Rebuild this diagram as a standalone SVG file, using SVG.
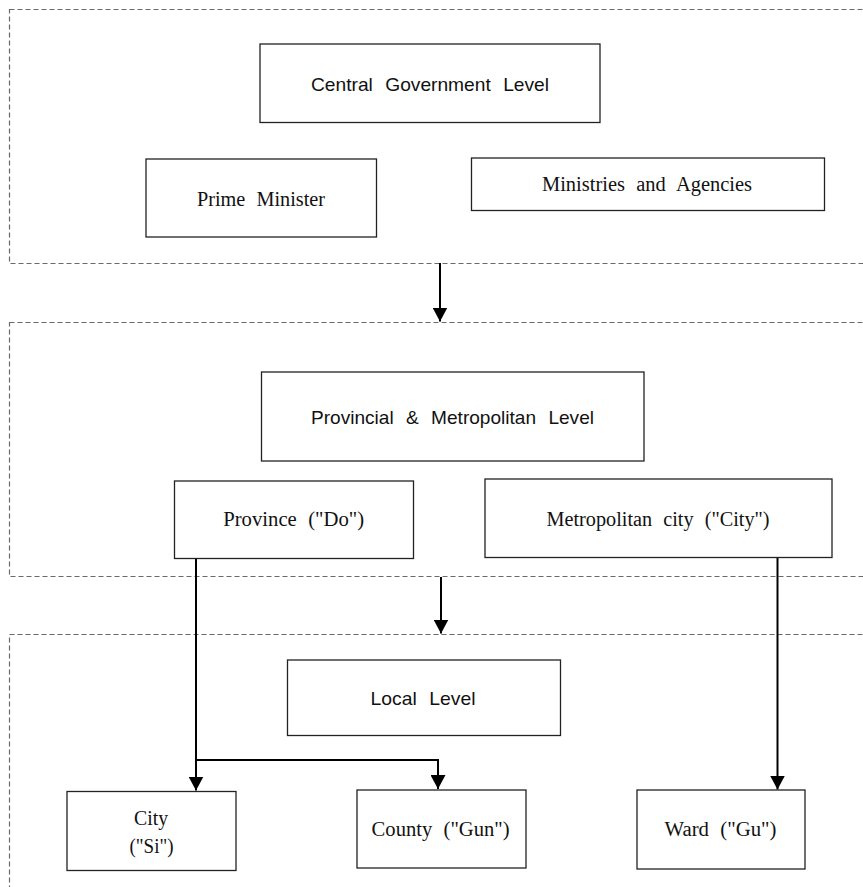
<svg xmlns="http://www.w3.org/2000/svg" width="863" height="887" viewBox="0 0 863 887">
<style>
.bg{fill:#fff}
.grp{fill:none;stroke:#6a6a6a;stroke-width:1.2;stroke-dasharray:5 3}
.box{fill:#fff;stroke:#222;stroke-width:1.3}
.sans{font-family:"Liberation Sans",Arial,sans-serif;font-size:19px;fill:#111;word-spacing:7px}
.serif{font-family:"Liberation Serif","Times New Roman",serif;font-size:20px;fill:#111;word-spacing:6px}
.con{fill:none;stroke:#000;stroke-width:2}
</style>
<defs>
<marker id="ah" markerUnits="userSpaceOnUse" markerWidth="15" markerHeight="15" refX="14" refY="7.5" orient="auto" viewBox="0 0 15 15">
<path d="M0,0 L14,7.5 L0,15 z" fill="#000"/>
</marker>
</defs>
<rect class="bg" x="0" y="0" width="863" height="887"/>
<g id="groups">
<rect class="grp" x="9.5" y="9.5" width="900" height="254"/>
<rect class="grp" x="9.5" y="322.5" width="900" height="254"/>
<rect class="grp" x="9.5" y="634.5" width="900" height="300"/>
</g>
<g id="connectors">
<path class="con" d="M440,263 V321.5" marker-end="url(#ah)"/>
<path class="con" d="M441,577 V633.5" marker-end="url(#ah)"/>
<path class="con" d="M196,558 V790.5" marker-end="url(#ah)"/>
<path class="con" d="M196,760 H438 V789" marker-end="url(#ah)"/>
<path class="con" d="M777.5,557 V789.5" marker-end="url(#ah)"/>
</g>
<g id="central">
<rect class="box" x="260" y="44" width="340" height="78.5"/>
<text class="sans" x="430" y="91" text-anchor="middle" textLength="238" lengthAdjust="spacingAndGlyphs">Central Government Level</text>
</g>
<g id="prime-minister">
<rect class="box" x="146" y="159" width="230.5" height="78"/>
<text class="serif" x="261" y="206" text-anchor="middle" textLength="128" lengthAdjust="spacingAndGlyphs">Prime Minister</text>
</g>
<g id="ministries">
<rect class="box" x="471.5" y="158" width="353" height="52.5"/>
<text class="serif" x="647" y="191" text-anchor="middle" textLength="210" lengthAdjust="spacingAndGlyphs">Ministries and Agencies</text>
</g>
<g id="provincial">
<rect class="box" x="261.5" y="372" width="382.5" height="89"/>
<text class="sans" x="452.5" y="424" text-anchor="middle" textLength="283" lengthAdjust="spacingAndGlyphs">Provincial &amp; Metropolitan Level</text>
</g>
<g id="province">
<rect class="box" x="174.5" y="481" width="239" height="77.5"/>
<text class="serif" x="293.7" y="526" text-anchor="middle" textLength="141" lengthAdjust="spacingAndGlyphs">Province ("Do")</text>
</g>
<g id="metropolitan">
<rect class="box" x="485" y="479" width="347" height="78.5"/>
<text class="serif" x="658" y="526" text-anchor="middle" textLength="223" lengthAdjust="spacingAndGlyphs">Metropolitan city ("City")</text>
</g>
<g id="local">
<rect class="box" x="287.5" y="660" width="273" height="75.5"/>
<text class="sans" x="423" y="705" text-anchor="middle" textLength="105" lengthAdjust="spacingAndGlyphs">Local Level</text>
</g>
<g id="city">
<rect class="box" x="67" y="791.5" width="169" height="79"/>
<text class="serif" x="151" y="825" text-anchor="middle" textLength="34" lengthAdjust="spacingAndGlyphs">City</text>
<text class="serif" x="151.5" y="853" text-anchor="middle" textLength="44" lengthAdjust="spacingAndGlyphs">("Si")</text>
</g>
<g id="county">
<rect class="box" x="357" y="790" width="169" height="78"/>
<text class="serif" x="440.6" y="836" text-anchor="middle" textLength="138" lengthAdjust="spacingAndGlyphs">County ("Gun")</text>
</g>
<g id="ward">
<rect class="box" x="637" y="790" width="168" height="79"/>
<text class="serif" x="720.5" y="836" text-anchor="middle" textLength="112" lengthAdjust="spacingAndGlyphs">Ward ("Gu")</text>
</g>
</svg>
